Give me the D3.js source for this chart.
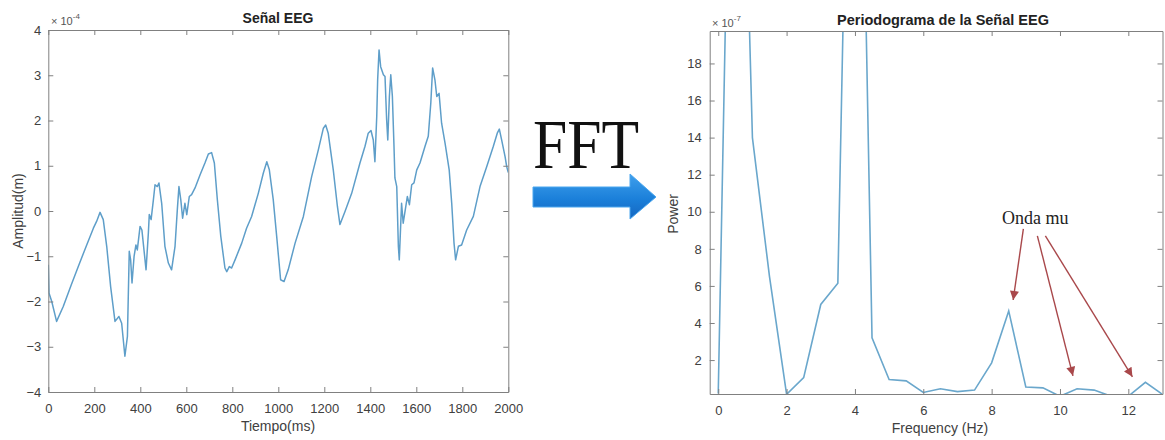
<!DOCTYPE html>
<html>
<head>
<meta charset="utf-8">
<script src="https://cdn.jsdelivr.net/npm/d3@7"></script>
<style>
  body { margin: 0; background: #fff; }
  svg { display: block; font-family: "Liberation Sans", Arial, sans-serif; }
</style>
</head>
<body>
<div id="chart"></div>
<script>
// DATA - left panel (amplitude in units of 1e-4)
const timeMs = [
  0, 3, 15, 36, 65, 100, 130, 167, 196, 210,
  225, 239, 254, 271, 290, 307, 319, 333, 344, 352,
  358, 364, 373, 381, 387, 399, 407, 425, 435, 439,
  447, 457, 464, 474, 481, 493, 507, 522, 536, 551,
  561, 568, 576, 584, 594, 602, 613, 623, 638, 660,
  681, 696, 710, 722, 735, 750, 768, 776, 787, 797,
  812, 841, 862, 884, 913, 935, 950, 961, 978, 993,
  1010, 1025, 1043, 1073, 1109, 1145, 1174, 1196, 1206, 1217,
  1239, 1257, 1268, 1290, 1319, 1355, 1377, 1391, 1403, 1413,
  1420, 1428, 1432, 1438, 1445, 1457, 1464, 1471, 1476, 1483,
  1489, 1496, 1503, 1507, 1515, 1522, 1526, 1536, 1543, 1561,
  1570, 1580, 1590, 1602, 1616, 1638, 1652, 1663, 1671, 1681,
  1689, 1699, 1710, 1725, 1743, 1754, 1764, 1771, 1783, 1797,
  1819, 1848, 1877, 1906, 1935, 1952, 1961, 1971, 1986, 1993,
  2000
];
const amplitude = [
  -1.19, -1.81, -2.0, -2.44, -2.11, -1.63, -1.23, -0.75, -0.38, -0.23,
  -0.03, -0.19, -0.78, -1.67, -2.44, -2.33, -2.48, -3.21, -2.77, -0.89,
  -1.08, -1.59, -1.0, -0.75, -0.86, -0.34, -0.42, -1.3, -0.49, -0.08,
  -0.19, 0.25, 0.58, 0.54, 0.62, 0.17, -0.78, -1.15, -1.3, -0.78,
  0.03, 0.54, 0.25, -0.16, 0.17, -0.08, 0.32, 0.36, 0.51, 0.8,
  1.06, 1.26, 1.29, 1.06, 0.25, -0.56, -1.26, -1.34, -1.23, -1.26,
  -1.08, -0.71, -0.38, -0.12, 0.39, 0.84, 1.09, 0.91, 0.25, -0.56,
  -1.52, -1.56, -1.3, -0.71, -0.12, 0.76, 1.35, 1.83, 1.9, 1.72,
  0.91, 0.1, -0.3, -0.01, 0.39, 1.06, 1.43, 1.72, 1.78, 1.57,
  1.09, 2.09, 2.9, 3.56, 3.19, 3.01, 2.97, 2.02, 1.57, 2.53,
  3.01, 2.53, 1.43, 0.73, 0.54, -0.78, -1.08, 0.17, -0.27, 0.32,
  0.14, 0.58, 0.62, 0.91, 1.06, 1.43, 1.65, 2.38, 3.16, 2.9,
  2.53, 2.6, 1.94, 1.5, 0.91, 0.17, -0.71, -1.08, -0.78, -0.75,
  -0.42, -0.12, 0.54, 0.98, 1.43, 1.72, 1.81, 1.57, 1.2, 0.98,
  0.85
];
const timeTicks = [0, 200, 400, 600, 800, 1000, 1200, 1400, 1600, 1800, 2000];
const ampTicks = [-4, -3, -2, -1, 0, 1, 2, 3, 4];

// DATA - right panel (power in units of 1e-7)
const freqHz = [
  0, 0.5, 1, 1.5, 2, 2.5, 3, 3.5, 4, 4.5, 5, 5.5, 6, 6.5,
  7, 7.5, 8, 8.5, 9, 9.5, 10, 10.5, 11, 11.5, 12, 12.5, 13
];
const power = [
  0.2, 48, 14, 6.5, 0.15, 1.05, 5.0, 6.15, 52, 3.2, 0.95, 0.88, 0.25, 0.45,
  0.3, 0.38, 1.85, 4.65, 0.55, 0.5, 0.05, 0.45, 0.38, 0.05, 0.05, 0.8, 0.15
];
const freqTicks = [0, 2, 4, 6, 8, 10, 12];
const powerTicks = [2, 4, 6, 8, 10, 12, 14, 16, 18];

// annotation: label position and arrow targets in data units
const muLabel = "Onda mu";
const muLabelAt = [9.28, 9.35];
const muTargets = [[8.63, 5.24], [10.38, 1.15], [12.12, 1.1]];

// CANVAS SETUP
const width = 1165,
  height = 440,
  lineColor = "#5e9ec9",
  axisColor = "#808080",
  textColor = "#404040";

const svg = d3
  .select("#chart")
  .append("svg")
  .attr("width", width)
  .attr("height", height);

const defs = svg.append("defs");

// matlab-like box with inward ticks on all four sides
function drawBox(x, y, xTicks, yTicks, xPad, yPad) {
  const [x0, x1] = x.range(),
    [y0, y1] = y.range();
  const g = svg.append("g");
  const fmt = d3.format("d");

  const styleAxis = (sel) => {
    sel.select(".domain").attr("stroke", axisColor);
    sel.selectAll(".tick line").attr("stroke", axisColor);
    sel
      .selectAll(".tick text")
      .attr("fill", textColor)
      .style("font-size", "13px");
  };

  g.append("g")
    .attr("transform", `translate(0,${y0})`)
    .call(d3.axisBottom(x).tickValues(xTicks).tickFormat(fmt).tickSize(-5).tickSizeOuter(0).tickPadding(xPad))
    .call(styleAxis);
  g.append("g")
    .attr("transform", `translate(0,${y1})`)
    .call(d3.axisTop(x).tickValues(xTicks).tickSize(-5).tickSizeOuter(0).tickFormat(""))
    .call(styleAxis);
  g.append("g")
    .attr("transform", `translate(${x0},0)`)
    .call(d3.axisLeft(y).tickValues(yTicks).tickFormat(fmt).tickSize(-5).tickSizeOuter(0).tickPadding(yPad))
    .call(styleAxis);
  g.append("g")
    .attr("transform", `translate(${x1},0)`)
    .call(d3.axisRight(y).tickValues(yTicks).tickSize(-5).tickSizeOuter(0).tickFormat(""))
    .call(styleAxis);
  return g;
}

function clipFor(id, x, y) {
  const [x0, x1] = x.range(),
    [y0, y1] = y.range();
  defs
    .append("clipPath")
    .attr("id", id)
    .append("rect")
    .attr("x", x0)
    .attr("y", y1)
    .attr("width", x1 - x0)
    .attr("height", y0 - y1);
}

// LEFT PANEL: Señal EEG
const xTime = d3.scaleLinear().domain([0, 2000]).range([48.3, 508.3]);
const yAmp = d3.scaleLinear().domain([-4, 4]).range([392, 30]);
clipFor("clipL", xTime, yAmp);

const eeg = timeMs.map((t, i) => ({ t: t, v: amplitude[i] }));
svg
  .append("path")
  .datum(eeg)
  .attr("clip-path", "url(#clipL)")
  .attr("fill", "none")
  .attr("stroke", lineColor)
  .attr("stroke-width", 1.5)
  .attr("stroke-linejoin", "round")
  .attr("d", d3.line().x((d) => xTime(d.t)).y((d) => yAmp(d.v)));

drawBox(xTime, yAmp, timeTicks, ampTicks, 12, 7);

svg
  .append("text")
  .attr("x", 278)
  .attr("y", 23)
  .attr("text-anchor", "middle")
  .style("font-size", "14px")
  .style("font-weight", "bold")
  .attr("fill", "#222")
  .text("Señal EEG");

const expL = svg
  .append("text")
  .attr("x", 51)
  .attr("y", 25)
  .style("font-size", "11px")
  .attr("fill", "#555");
expL.append("tspan").text("× 10");
expL.append("tspan").attr("dy", -6).style("font-size", "8px").text("-4");

svg
  .append("text")
  .attr("x", 278)
  .attr("y", 431)
  .attr("text-anchor", "middle")
  .style("font-size", "14px")
  .attr("fill", textColor)
  .text("Tiempo(ms)");

svg
  .append("text")
  .attr("transform", "translate(23,211) rotate(-90)")
  .attr("text-anchor", "middle")
  .style("font-size", "14px")
  .attr("fill", textColor)
  .text("Amplitud(m)");

// MIDDLE: FFT arrow
svg
  .append("text")
  .attr("x", 533)
  .attr("y", 168)
  .attr("textLength", 106)
  .attr("lengthAdjust", "spacingAndGlyphs")
  .style("font-family", "'Liberation Serif', 'Times New Roman', serif")
  .style("font-size", "70px")
  .attr("fill", "#111")
  .text("FFT");

const grad = defs
  .append("linearGradient")
  .attr("id", "arrowGrad")
  .attr("x1", 0)
  .attr("y1", 0)
  .attr("x2", 0)
  .attr("y2", 1);
grad.append("stop").attr("offset", "0%").attr("stop-color", "#3f9fec");
grad.append("stop").attr("offset", "55%").attr("stop-color", "#1b80da");
grad.append("stop").attr("offset", "100%").attr("stop-color", "#1566c0");

svg
  .append("path")
  .attr("d", "M533,187 L630,187 L630,174 L656,197 L630,219 L630,207 L533,207 Z")
  .attr("fill", "url(#arrowGrad)")
  .attr("stroke", "#4aa6ee")
  .attr("stroke-width", 1);

// RIGHT PANEL: Periodograma
const xFreq = d3.scaleLinear().domain([-0.25, 13]).range([709.7, 1162.5]);
const yPow = d3.scaleLinear().domain([0.17, 19.75]).range([394, 31]);
clipFor("clipR", xFreq, yPow);

const spec = freqHz.map((f, i) => ({ f: f, p: power[i] }));
svg
  .append("path")
  .datum(spec)
  .attr("clip-path", "url(#clipR)")
  .attr("fill", "none")
  .attr("stroke", "#6aa7cc")
  .attr("stroke-width", 1.6)
  .attr("d", d3.line().x((d) => xFreq(d.f)).y((d) => yPow(d.p)));

drawBox(xFreq, yPow, freqTicks, powerTicks, 12, 8);

svg
  .append("text")
  .attr("x", 943)
  .attr("y", 25)
  .attr("text-anchor", "middle")
  .style("font-size", "14.5px")
  .style("font-weight", "bold")
  .attr("fill", "#222")
  .text("Periodograma de la Señal EEG");

const expR = svg
  .append("text")
  .attr("x", 712)
  .attr("y", 27)
  .style("font-size", "11px")
  .attr("fill", "#555");
expR.append("tspan").text("× 10");
expR.append("tspan").attr("dy", -6).style("font-size", "8px").text("-7");

svg
  .append("text")
  .attr("x", 940)
  .attr("y", 433)
  .attr("text-anchor", "middle")
  .style("font-size", "14px")
  .attr("fill", textColor)
  .text("Frequency (Hz)");

svg
  .append("text")
  .attr("transform", "translate(678,214) rotate(-90)")
  .attr("text-anchor", "middle")
  .style("font-size", "14px")
  .attr("fill", textColor)
  .text("Power");

// ANNOTATION: Onda mu
const arrowRed = "#a9484b";
defs
  .append("marker")
  .attr("id", "redHead")
  .attr("viewBox", "0 0 10 10")
  .attr("refX", 10)
  .attr("refY", 5)
  .attr("markerUnits", "userSpaceOnUse")
  .attr("markerWidth", 11)
  .attr("markerHeight", 9)
  .attr("orient", "auto")
  .append("path")
  .attr("d", "M0,0 L10,5 L0,10 Z")
  .attr("fill", arrowRed);

const lx = xFreq(muLabelAt[0]),
  ly = yPow(muLabelAt[1]);
svg
  .append("text")
  .attr("x", lx)
  .attr("y", ly)
  .attr("text-anchor", "middle")
  .style("font-family", "'Liberation Serif', 'Times New Roman', serif")
  .style("font-size", "18px")
  .attr("fill", "#222")
  .text(muLabel);

const starts = [[-12, 5], [2, 12], [10, 12]];
svg
  .selectAll("line.mu")
  .data(muTargets)
  .join("line")
  .attr("class", "mu")
  .attr("x1", (d, i) => lx + starts[i][0])
  .attr("y1", (d, i) => ly + starts[i][1])
  .attr("x2", (d) => xFreq(d[0]))
  .attr("y2", (d) => yPow(d[1]))
  .attr("stroke", arrowRed)
  .attr("stroke-width", 1.4)
  .attr("marker-end", "url(#redHead)");
</script>
</body>
</html>
